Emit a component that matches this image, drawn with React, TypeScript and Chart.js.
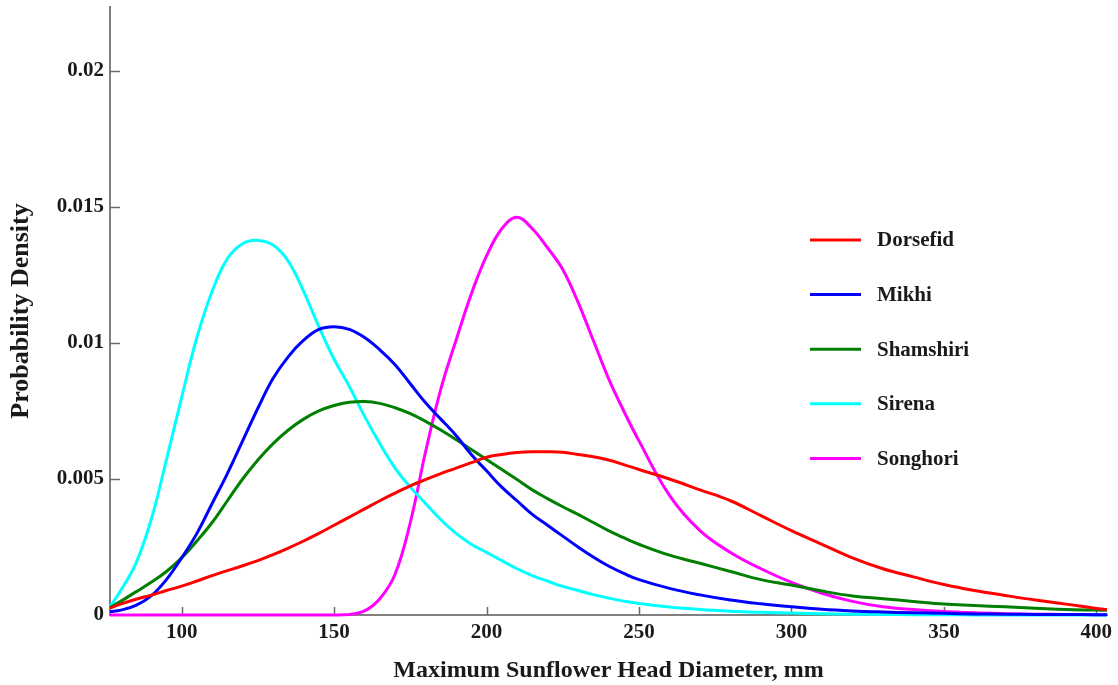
import React, { useEffect, useRef } from "react";
import { Chart, registerables } from "chart.js";

Chart.register(...registerables);

// ---- data ----
const xValues = [
  76.5, 80, 85, 90, 95, 100, 105, 110, 115, 120, 125, 130, 135, 140, 145, 150, 155, 160, 165, 170,
  175, 180, 185, 190, 195, 200, 205, 210, 215, 220, 225, 230, 235, 240, 245, 250, 260, 270, 280,
  290, 300, 310, 320, 330, 340, 350, 360, 370, 380, 390, 400, 403.5,
];

const dorsefid = [
  0.00025, 0.0004, 0.00058, 0.00073, 0.0009, 0.00106, 0.00125, 0.00145, 0.00163, 0.00181, 0.002,
  0.00222, 0.00246, 0.00272, 0.003, 0.0033, 0.0036, 0.0039, 0.0042, 0.00448, 0.00475, 0.00498,
  0.0052, 0.0054, 0.0056, 0.0058, 0.0059, 0.00597, 0.006, 0.006, 0.00598, 0.0059, 0.00582, 0.0057,
  0.00553, 0.00535, 0.005, 0.0046, 0.0042, 0.00365, 0.0031, 0.0026, 0.0021, 0.0017, 0.0014,
  0.00112, 0.0009, 0.00072, 0.00055, 0.0004, 0.00024, 0.0002,
];

const mikhi = [
  0.00012, 0.00018, 0.00035, 0.0007, 0.0013, 0.0021, 0.003, 0.0041, 0.0052, 0.0064, 0.0076, 0.0087,
  0.0095, 0.0101, 0.0105, 0.0106, 0.0105, 0.0102, 0.00975, 0.0092, 0.0085, 0.0078, 0.0072, 0.0066,
  0.0059, 0.0053, 0.0047, 0.0042, 0.0037, 0.0033, 0.0029, 0.0025, 0.00213, 0.0018, 0.00153, 0.0013,
  0.00098, 0.00074, 0.00055, 0.00041, 0.0003, 0.00021, 0.00015, 0.00011, 0.00008, 0.00006, 0.00004,
  0.00003, 0.00002, 0.00002, 0.00001, 0.00001,
];

const shamshiri = [
  0.00027, 0.0005, 0.00085, 0.0012, 0.0016, 0.0021, 0.00272, 0.0034, 0.0042, 0.005, 0.0057, 0.0063,
  0.0068, 0.0072, 0.0075, 0.0077, 0.00782, 0.00785, 0.00778, 0.00762, 0.0074, 0.00712, 0.0068,
  0.00645, 0.00608, 0.00572, 0.00535, 0.00498, 0.0046, 0.00428, 0.00398, 0.0037, 0.0034, 0.0031,
  0.00284, 0.0026, 0.0022, 0.0019, 0.0016, 0.0013, 0.0011, 0.00088, 0.0007, 0.0006, 0.0005, 0.0004,
  0.00035, 0.0003, 0.00025, 0.0002, 0.00018, 0.00017,
];

const sirena = [
  0.0003, 0.0009, 0.0019, 0.0035, 0.0057, 0.008, 0.0102, 0.0119, 0.0131, 0.01365, 0.01377, 0.0136,
  0.013, 0.0119, 0.0106, 0.0094, 0.0084, 0.0073, 0.0063, 0.0054, 0.0047, 0.0041, 0.0035, 0.003,
  0.0026, 0.0023, 0.002, 0.0017, 0.00145, 0.00125, 0.00105, 0.0009, 0.00075, 0.00062, 0.00051,
  0.00042, 0.00029, 0.0002, 0.00014, 0.0001, 0.00007, 0.00005, 0.00003, 0.00002, 0.00001, 0.00001,
  0, 0, 0, 0, 0, 0,
];

const songhori = [
  0, 0, 0, 0, 0, 0, 0, 0, 0, 0, 0, 0, 0, 0, 0, 0, 0.00002, 0.00015, 0.0006, 0.0015, 0.0034, 0.006,
  0.0083, 0.0101, 0.0118, 0.0132, 0.0142, 0.01462, 0.0142, 0.0135, 0.0127, 0.0115, 0.0101, 0.0087,
  0.0075, 0.0064, 0.0044, 0.0031, 0.0023, 0.0017, 0.0012, 0.0008, 0.0005, 0.0003, 0.0002, 0.00013,
  0.00008, 0.00005, 0.00003, 0.00002, 0.00001, 0.00001,
];

const seriesNames = ["Dorsefid", "Mikhi", "Shamshiri", "Sirena", "Songhori"];
const seriesValues = [dorsefid, mikhi, shamshiri, sirena, songhori];
const seriesColors = ["#ff0000", "#0000ff", "#007f00", "#00ffff", "#ff00ff"];

const xTicks = [100, 150, 200, 250, 300, 350, 400];
const yTicks = [0, 0.005, 0.01, 0.015, 0.02];

const xTitle = "Maximum Sunflower Head Diameter, mm";
const yTitle = "Probability Density";

const FONT = "'Times New Roman', 'Liberation Serif', serif";
const TEXT_COLOR = "#1a1a1a";
const AXIS_COLOR = "#808080";

export default function App() {
  const ref = useRef<HTMLCanvasElement>(null);

  useEffect(() => {
    if (!ref.current) return;

    const datasets = seriesValues.map((vals, i) => ({
      label: seriesNames[i],
      data: xValues.map((x, j) => ({ x, y: vals[j] })),
      borderColor: seriesColors[i],
      backgroundColor: seriesColors[i],
      borderWidth: 3,
      pointRadius: 0,
      pointHoverRadius: 0,
      tension: 0.4,
      fill: false,
      clip: 4,
    }));

    const innerTicks = {
      id: "innerTicks",
      beforeDatasetsDraw(chart: any) {
        const { ctx, chartArea, scales } = chart;
        ctx.save();
        ctx.strokeStyle = "#6a6a6a";
        ctx.lineWidth = 1.5;
        xTicks.forEach((v) => {
          const px = Math.round(scales.x.getPixelForValue(v)) + 0.5;
          ctx.beginPath();
          ctx.moveTo(px, chartArea.bottom);
          ctx.lineTo(px, chartArea.bottom - 8);
          ctx.stroke();
        });
        yTicks.forEach((v) => {
          if (v === 0) return;
          const py = Math.round(scales.y.getPixelForValue(v)) + 0.5;
          ctx.beginPath();
          ctx.moveTo(chartArea.left, py);
          ctx.lineTo(chartArea.left + 10, py);
          ctx.stroke();
        });
        ctx.restore();
      },
    };

    const customLegend = {
      id: "customLegend",
      afterDraw(chart: any) {
        const { ctx } = chart;
        ctx.save();
        chart.data.datasets.forEach((ds: any, i: number) => {
          const y = 240 + i * 54.6;
          ctx.strokeStyle = ds.borderColor;
          ctx.lineWidth = 3;
          ctx.beginPath();
          ctx.moveTo(810, y);
          ctx.lineTo(861, y);
          ctx.stroke();
          ctx.fillStyle = TEXT_COLOR;
          ctx.font = `bold 21px ${FONT}`;
          ctx.textBaseline = "middle";
          ctx.textAlign = "left";
          ctx.fillText(ds.label, 877, y + 1);
        });
        ctx.restore();
      },
    };

    const chart = new Chart(ref.current, {
      type: "line",
      data: { datasets },
      options: {
        animation: false,
        responsive: true,
        maintainAspectRatio: false,
        layout: { padding: { left: 0, right: 11, top: 7, bottom: 0 } },
        plugins: {
          legend: { display: false },
          tooltip: { enabled: false },
        },
        scales: {
          x: {
            type: "linear",
            min: 76.5,
            max: 403.5,
            afterBuildTicks: (s: any) => {
              s.ticks = xTicks.map((v) => ({ value: v }));
            },
            afterFit: (s: any) => {
              s.height = 70;
              s.paddingLeft = 0;
              s.paddingRight = 0;
            },
            grid: { display: false, drawTicks: false },
            border: { display: true, color: AXIS_COLOR, width: 2 },
            ticks: {
              font: { family: FONT, size: 21, weight: "bold" },
              color: TEXT_COLOR,
              padding: 5,
              maxRotation: 0,
              autoSkip: false,
              callback: (v: any) => String(v),
            },
            title: {
              display: true,
              text: xTitle,
              font: { family: FONT, size: 24, weight: "bold" },
              color: TEXT_COLOR,
              padding: { top: 0, bottom: 0 },
            },
          },
          y: {
            type: "linear",
            min: 0,
            max: 0.02235,
            afterBuildTicks: (s: any) => {
              s.ticks = yTicks.map((v) => ({ value: v }));
            },
            afterFit: (s: any) => {
              s.width = 110;
              s.paddingTop = 0;
              s.paddingBottom = 0;
            },
            grid: { display: false, drawTicks: false },
            border: { display: true, color: AXIS_COLOR, width: 2 },
            ticks: {
              font: { family: FONT, size: 21, weight: "bold" },
              color: TEXT_COLOR,
              padding: 6,
              autoSkip: false,
              callback: (v: any) => String(v),
            },
            title: {
              display: true,
              text: yTitle,
              font: { family: FONT, size: 26, weight: "bold" },
              color: TEXT_COLOR,
              padding: { top: 6, bottom: 0 },
            },
          },
        },
      },
      plugins: [innerTicks, customLegend],
    });

    return () => chart.destroy();
  }, []);

  return (
    <div
      style={{
        position: "absolute",
        left: 0,
        top: 0,
        width: 1118,
        height: 685,
        background: "#ffffff",
      }}
    >
      <canvas ref={ref} />
    </div>
  );
}
